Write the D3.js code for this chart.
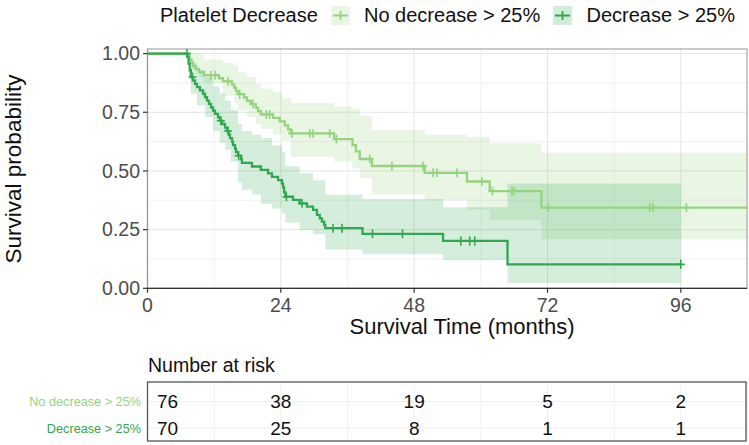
<!DOCTYPE html>
<html><head><meta charset="utf-8">
<script src="https://cdn.jsdelivr.net/npm/d3@7"></script>
<style>body{margin:0;background:#fff} svg{display:block;font-family:"Liberation Sans",Arial,sans-serif}</style>
</head><body><svg id="c" width="749" height="445"></svg>
<script>
// ---------------- data ----------------
const groups = ["No decrease > 25%", "Decrease > 25%"];
const legendTitle = "Platelet Decrease";
const colors = ["#95d47f", "#2fa84f"];

// Kaplan-Meier steps (event time in months, survival after event)
const lightTimes = [7.2,7.56,7.92,8.19,8.73,9.27,10.17,12.87,13.6,15.2,15.6,15.9,16.3,17.4,17.9,18.6,19.5,19.9,20.4,22.6,23.8,24.7,25.3,25.8,33.6,36.9,37.5,38.2,40.4,49.9,57.5,61.6,70.9];
const lightSurv  = [0.987,0.974,0.961,0.947,0.934,0.921,0.908,0.895,0.882,0.869,0.855,0.841,0.827,0.813,0.799,0.785,0.770,0.755,0.741,0.726,0.711,0.694,0.677,0.660,0.636,0.610,0.583,0.551,0.521,0.492,0.455,0.414,0.344];
const lightEnd = 108;
const lightCensor = [11.4,12.2,14.5,16.6,19.0,21.4,22.0,26.0,29.2,29.8,32.8,34.0,40.0,44.0,49.6,51.4,52.1,55.7,60.2,62.1,65.6,66.0,72.1,90.4,91.0,97.0];

const darkTimes = [7.2,7.4,7.6,7.8,8.19,8.55,8.91,9.45,9.99,10.35,10.71,11.07,11.43,11.79,12.15,12.69,13.05,13.41,13.95,14.31,14.67,14.85,15.21,15.39,15.75,15.93,16.29,16.83,17.0,18.8,20.4,21.7,22.4,23.5,24.2,24.4,24.6,24.8,26.2,27.4,28.7,29.8,30.5,31.0,31.4,31.8,32.0,38.7,53.2,64.8];
const darkSurv  = [0.986,0.957,0.929,0.900,0.886,0.871,0.857,0.843,0.829,0.814,0.800,0.786,0.771,0.757,0.743,0.728,0.714,0.700,0.685,0.670,0.655,0.640,0.625,0.610,0.595,0.580,0.565,0.550,0.534,0.519,0.505,0.490,0.475,0.461,0.447,0.430,0.410,0.390,0.377,0.362,0.348,0.334,0.313,0.298,0.284,0.270,0.256,0.232,0.202,0.102];
const darkEnd = 96;
const darkCensor = [7.1,8.1,13.2,14.5,16.4,25.0,27.8,33.4,35.0,40.5,45.9,56.4,58.0,58.9,96.0];

// confidence bands (step functions)
const lightBandTimes = [0,7.2,8.2,9.3,10.2,13.6,15.6,16.3,17.9,19.5,20.4,22.6,24.2,25.8,33.6,36.9,38.2,40.4,49.9,57.5,61.6,70.9];
const lightUpper = [1,1,1,0.995,0.975,0.96,0.95,0.92,0.90,0.87,0.85,0.835,0.81,0.79,0.775,0.765,0.735,0.675,0.655,0.645,0.618,0.578];
const lightLower = [1,0.96,0.93,0.90,0.875,0.82,0.79,0.76,0.73,0.70,0.68,0.655,0.63,0.56,0.54,0.51,0.47,0.40,0.375,0.335,0.29,0.209];

const darkBandTimes = [0,7.2,7.8,8.9,10.4,11.8,13.0,14.0,15.0,16.3,17.0,18.8,20.4,22.4,24.2,24.8,27.4,29.8,32.0,38.7,53.2,64.8];
const darkUpper = [1,1,0.96,0.93,0.90,0.86,0.83,0.80,0.76,0.70,0.67,0.655,0.64,0.61,0.58,0.52,0.49,0.46,0.40,0.38,0.345,0.447];
const darkLower = [1,0.95,0.83,0.78,0.73,0.67,0.62,0.59,0.54,0.45,0.42,0.40,0.36,0.34,0.32,0.28,0.25,0.23,0.165,0.145,0.12,0.022];

const xTicks = [0,24,48,72,96];
const xMinor = [12,36,60,84,108];
const yTicks = [0,0.25,0.5,0.75,1];
const yMinor = [0.125,0.375,0.625,0.875];
const riskTimes = [0,24,48,72,96];
const riskLight = [76,38,19,5,2];
const riskDark = [70,25,8,1,1];

// ---------------- layout ----------------
const svg = d3.select("#c");
const P = {l:147.5, r:747, t:49, b:288.3};
const x = d3.scaleLinear().domain([0,108]).range([P.l, 747.5]);
const y = d3.scaleLinear().domain([0,1]).range([P.b, 53.6]);

svg.append("defs").append("clipPath").attr("id","clip")
  .append("rect").attr("x",P.l).attr("y",P.t).attr("width",P.r-P.l).attr("height",P.b-P.t);

// grid
const g = svg.append("g");
g.selectAll(".ym").data(yMinor).join("line").attr("x1",P.l).attr("x2",P.r).attr("y1",d=>y(d)).attr("y2",d=>y(d)).attr("stroke","#f1f1f1");
g.selectAll(".xm").data(xMinor).join("line").attr("y1",P.t).attr("y2",P.b).attr("x1",d=>x(d)).attr("x2",d=>x(d)).attr("stroke","#f1f1f1");
g.selectAll(".yM").data(yTicks).join("line").attr("x1",P.l).attr("x2",P.r).attr("y1",d=>y(d)).attr("y2",d=>y(d)).attr("stroke","#e4e4e4");
g.selectAll(".xM").data(xTicks).join("line").attr("y1",P.t).attr("y2",P.b).attr("x1",d=>x(d)).attr("x2",d=>x(d)).attr("stroke","#e4e4e4");

// panel border
svg.append("rect").attr("x",P.l).attr("y",P.t).attr("width",P.r-P.l).attr("height",P.b-P.t)
  .attr("fill","none").attr("stroke","#a8a8a8").attr("stroke-width",1.2);

function stepData(times, surv, end){
  const pts=[[0,1]];
  times.forEach((t,i)=>pts.push([t,surv[i]]));
  pts.push([end, surv[surv.length-1]]);
  return pts;
}
function survAt(times, surv, t){
  let s=1; times.forEach((tt,i)=>{ if(tt<=t) s=surv[i]; }); return s;
}
function bandData(times, lo, up, end){
  const d = times.map((t,i)=>({t, lo:lo[i], up:up[i]}));
  d.push({t:end, lo:lo[lo.length-1], up:up[up.length-1]});
  return d;
}

const plot = svg.append("g").attr("clip-path","url(#clip)");
const area = d3.area().curve(d3.curveStepAfter).x(d=>x(d.t)).y0(d=>y(d.lo)).y1(d=>y(d.up));
plot.append("path").datum(bandData(lightBandTimes, lightLower, lightUpper, lightEnd)).attr("d",area).attr("fill",colors[0]).attr("fill-opacity",0.22);
plot.append("path").datum(bandData(darkBandTimes, darkLower, darkUpper, darkEnd)).attr("d",area).attr("fill",colors[1]).attr("fill-opacity",0.2);

const line = d3.line().curve(d3.curveStepAfter).x(d=>x(d[0])).y(d=>y(d[1]));
const series = [
  {times:lightTimes, surv:lightSurv, end:lightEnd, cens:lightCensor, color:colors[0]},
  {times:darkTimes, surv:darkSurv, end:darkEnd, cens:darkCensor, color:colors[1]}
];
series.forEach(s=>{
  plot.append("path").datum(stepData(s.times,s.surv,s.end)).attr("d",line)
    .attr("fill","none").attr("stroke",s.color).attr("stroke-width",2.3);
  plot.selectAll(null).data(s.cens).join("path")
    .attr("d",t=>{const cx=x(t), cy=y(survAt(s.times,s.surv,t)); return `M${cx-4},${cy}H${cx+4}M${cx},${cy-4.5}V${cy+4.5}`;})
    .attr("stroke",s.color).attr("stroke-width",1.6).attr("fill","none");
});

// axes
svg.append("line").attr("x1",P.l).attr("x2",P.l).attr("y1",P.t).attr("y2",P.b).attr("stroke","#9a9a9a").attr("stroke-width",1.2);
svg.append("line").attr("x1",P.l).attr("x2",P.r).attr("y1",P.b).attr("y2",P.b).attr("stroke","#333").attr("stroke-width",1.2);
const ya = svg.append("g");
ya.selectAll("line").data(yTicks).join("line").attr("x1",P.l-4.5).attr("x2",P.l).attr("y1",d=>y(d)).attr("y2",d=>y(d)).attr("stroke","#333").attr("stroke-width",1.2);
ya.selectAll("text").data(yTicks).join("text").attr("x",140).attr("y",d=>y(d)).attr("dy","0.35em")
  .attr("text-anchor","end").attr("font-size",19.5).attr("fill","#4d4d4d").text(d=>d3.format(".2f")(d));
const xa = svg.append("g");
xa.selectAll("line").data(xTicks).join("line").attr("y1",P.b).attr("y2",P.b+4.5).attr("x1",d=>x(d)).attr("x2",d=>x(d)).attr("stroke","#333").attr("stroke-width",1.2);
xa.selectAll("text").data(xTicks).join("text").attr("x",d=>x(d)).attr("y",312)
  .attr("text-anchor","middle").attr("font-size",19.5).attr("fill","#4d4d4d").text(d=>d);

svg.append("text").attr("x",462).attr("y",334).attr("text-anchor","middle").attr("font-size",22).attr("fill","#111").text("Survival Time (months)");
svg.append("text").attr("transform","translate(21,169) rotate(-90)").attr("text-anchor","middle").attr("font-size",22.5).attr("fill","#111").text("Survival probability");

// legend
svg.append("text").attr("x",160).attr("y",22).attr("font-size",20).attr("fill","#111").text(legendTitle);
const legX = [331, 553], legTX = [364, 586.5];
groups.forEach((gname,i)=>{
  svg.append("rect").attr("x",legX[i]).attr("y",6).attr("width",19).attr("height",19).attr("fill",colors[i]).attr("fill-opacity",0.22);
  svg.append("path").attr("d",`M${legX[i]+2},15.5H${legX[i]+17}M${legX[i]+9.5},11V20`).attr("stroke",colors[i]).attr("stroke-width",1.8);
  svg.append("text").attr("x",legTX[i]).attr("y",22).attr("font-size",20).attr("fill","#111").text(gname);
});

// risk table
svg.append("text").attr("x",148).attr("y",372).attr("font-size",19.5).attr("fill","#111").text("Number at risk");
const T = {t:382, b:441};
const rowY = [401.5, 428];
const rt = svg.append("g");
rt.selectAll(".rg").data(rowY).join("line").attr("x1",P.l).attr("x2",746).attr("y1",d=>d).attr("y2",d=>d).attr("stroke","#efefef");
rt.selectAll(".vg").data(xMinor.concat(xTicks)).join("line").attr("y1",T.t).attr("y2",T.b).attr("x1",d=>x(d)).attr("x2",d=>x(d)).attr("stroke","#f0f0f0");
rt.append("rect").attr("x",P.l).attr("y",T.t).attr("width",746-P.l).attr("height",T.b-T.t).attr("fill","none").attr("stroke","#555").attr("stroke-width",1.3);
[riskLight, riskDark].forEach((vals,i)=>{
  rt.selectAll(null).data(riskTimes).join("text")
    .attr("x",t=>t===0 ? x(t)+9.5 : x(t)).attr("y",rowY[i]).attr("dy","0.36em")
    .attr("text-anchor",t=>t===0?"start":"middle").attr("font-size",19).attr("fill","#111")
    .text((t,j)=>vals[j]);
  rt.append("text").attr("x",141).attr("y",rowY[i]).attr("dy","0.36em").attr("text-anchor","end")
    .attr("font-size",12.7).attr("fill",colors[i]).text(groups[i]);
});
</script></body></html>
